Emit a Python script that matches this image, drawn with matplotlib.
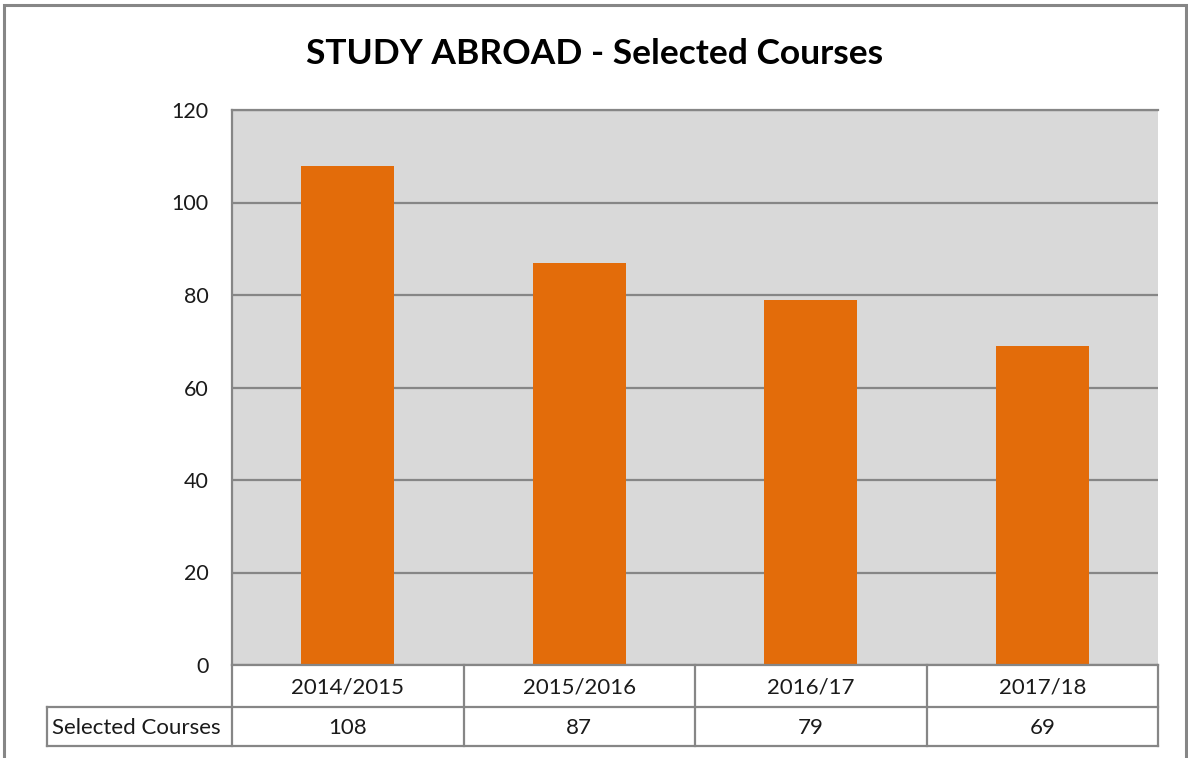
import matplotlib
matplotlib.use("Agg")
import matplotlib.pyplot as plt
from matplotlib.patches import Rectangle
from matplotlib.lines import Line2D
import matplotlib.transforms as mtransforms

categories = ["2014/2015", "2015/2016", "2016/17", "2017/18"]
values = [108, 87, 79, 69]
series_name = "Selected Courses"
yticks = [0, 20, 40, 60, 80, 100, 120]
title = "STUDY ABROAD - Selected Courses"

W, H = 1188, 758
fig = plt.figure(figsize=(W / 100, H / 100), dpi=100)
plt.rcParams['font.family'] = ['Lato', 'DejaVu Sans']

def fx(px):
    return px / W

def fy(py):
    return 1 - py / H

grey = "#868686"
bar_color = "#E36C0A"
bg = "#D9D9D9"
txt = "#1a1a1a"

# outer chart border
fig.add_artist(Rectangle((fx(4), fy(770)), fx(1186) - fx(4), fy(5) - fy(770),
                         transform=fig.transFigure, fill=False, edgecolor=grey, lw=2.2))

L, R, T, B = 232, 1158, 110, 665
ax = fig.add_axes([fx(L), fy(B), fx(R) - fx(L), fy(T) - fy(B)])
ax.set_facecolor(bg)
x = list(range(len(categories)))
ax.bar(x, values, width=0.4, color=bar_color, zorder=3)
ax.set_xlim(-0.5, len(categories) - 0.5)
ax.set_ylim(0, 120)
ax.set_yticks(yticks)
ax.set_yticklabels([str(v) for v in yticks], fontsize=15.5, color=txt)
ax.tick_params(axis='y', length=0, pad=17)
ax.set_xticks([])
ax.yaxis.grid(True, color=grey, lw=1.6, zorder=1)
for s in ["right", "bottom"]:
    ax.spines[s].set_visible(False)
ax.spines["left"].set_color(grey)
ax.spines["left"].set_linewidth(1.6)
ax.spines["top"].set_color(grey)
ax.spines["top"].set_linewidth(1.6)

fig.text(0.5 * (fx(305) + fx(885)), fy(54), title, ha="center", va="center",
         fontsize=25.5, fontweight="bold", color="black")

# data table
trans = mtransforms.blended_transform_factory(ax.transData, fig.transFigure)
row1_top, row1_bot, row2_bot = 665, 707, 746
lw = 1.6
xl, xr = -0.5, len(categories) - 0.5
fig.add_artist(Line2D([xl, xr], [fy(row1_top)] * 2, transform=trans, color=grey, lw=lw))
fig.add_artist(Line2D([fx(47), fx(R)], [fy(row1_bot)] * 2, transform=fig.transFigure, color=grey, lw=lw))
fig.add_artist(Line2D([fx(47), fx(R)], [fy(row2_bot)] * 2, transform=fig.transFigure, color=grey, lw=lw))
for i in range(len(categories) + 1):
    xb = i - 0.5
    fig.add_artist(Line2D([xb, xb], [fy(row1_top), fy(row2_bot)], transform=trans, color=grey, lw=lw))
fig.add_artist(Line2D([fx(47), fx(47)], [fy(row1_bot), fy(row2_bot)], transform=fig.transFigure, color=grey, lw=lw))

for i, (c, v) in enumerate(zip(categories, values)):
    fig.text(i, fy((row1_top + row1_bot) / 2 + 1), c, transform=trans, ha="center", va="center",
             fontsize=16, color=txt)
    fig.text(i, fy((row1_bot + row2_bot) / 2 + 1), str(v), transform=trans, ha="center", va="center",
             fontsize=16, color=txt)
fig.text(fx(52), fy((row1_bot + row2_bot) / 2 + 1), series_name, ha="left", va="center",
         fontsize=16, color=txt)

fig.savefig("out.png", dpi=100)
